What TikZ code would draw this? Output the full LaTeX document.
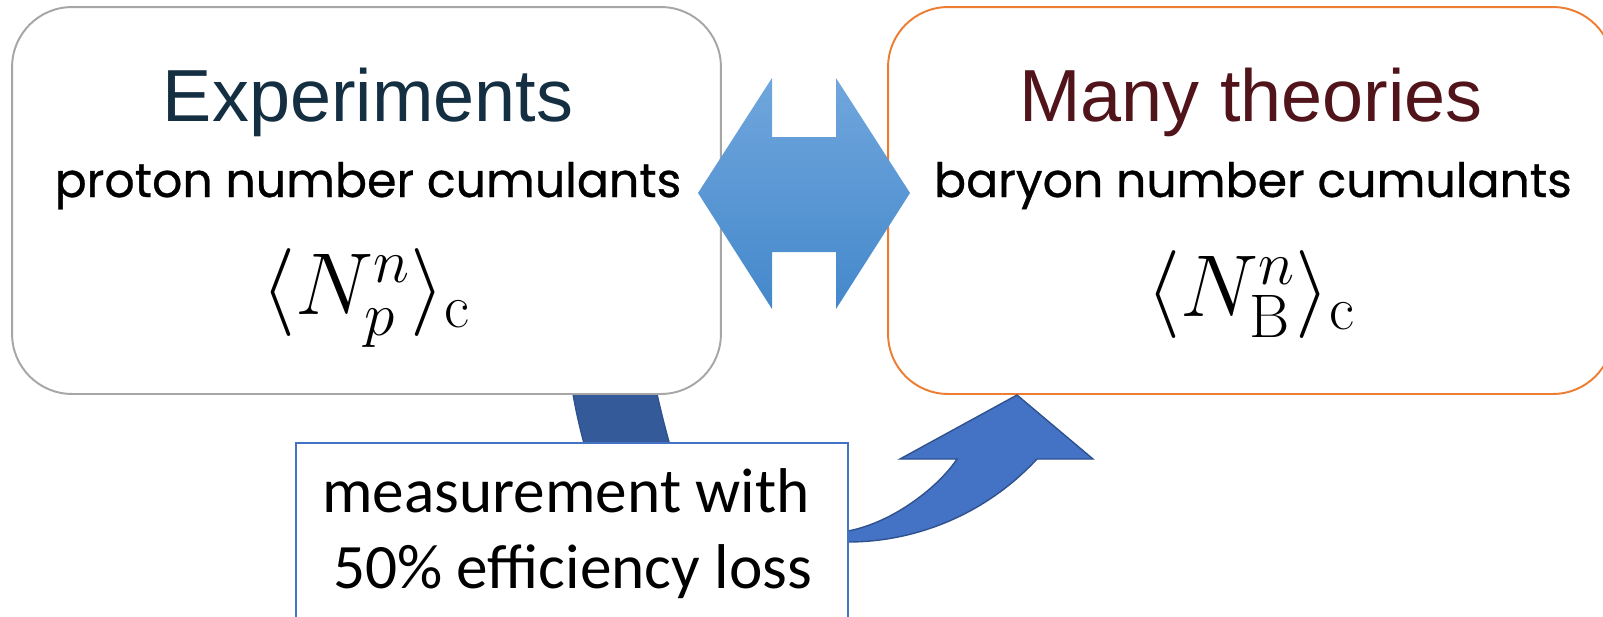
\RequirePackage{fix-cm}
\documentclass[tikz,border=0pt]{standalone}
\usepackage{fontspec}
\newfontfamily\headfont{Liberation Sans}
\newfontfamily\gothfont[FakeBold=0.6]{Poppins}
\newfontfamily\calfont{Carlito}
\usetikzlibrary{positioning}
\definecolor{expnavy}{RGB}{20,46,66}
\definecolor{theomaroon}{RGB}{80,20,26}
\definecolor{expgray}{RGB}{166,166,166}
\definecolor{theoorange}{RGB}{237,125,49}
\definecolor{boxblue}{RGB}{68,114,196}
\definecolor{curveblue}{RGB}{68,114,196}
\definecolor{bandblue}{RGB}{52,90,153}
\definecolor{bandedge}{RGB}{47,82,143}
\definecolor{dbltop}{RGB}{112,166,221}
\definecolor{dblbot}{RGB}{68,136,203}

\begin{document}
\begin{tikzpicture}[x=0.02cm,y=-0.02cm,
    panel/.style={draw,line width=1.1pt,fill=white,rounded corners=1.2cm,minimum height=7.74cm,inner sep=0pt},
    txt/.style={anchor=base,inner sep=0pt},
    headtxt/.style={txt,font=\headfont\fontsize{42}{48}\selectfont},
    subtxt/.style={txt,font=\gothfont\fontsize{27}{32}\selectfont},
    mathtxt/.style={txt,font=\fontsize{50}{56}\selectfont},
    meastxt/.style={txt,font=\calfont\fontsize{36}{43}\selectfont}]
  \useasboundingbox (0,0) rectangle (1603,616);
  \clip (0,0) rectangle (1603,616);
  \filldraw[fill=bandblue,draw=bandedge,line width=0.8pt] (570,375) .. controls (575,410) and (582,440) .. (595,480)
    -- (680,480) .. controls (668,440) and (660,410) .. (653,375) -- cycle;
  \node[panel,draw=expgray,minimum width=14.18cm] (exp) at (366.5,200.5) {};
  \node[panel,draw=theoorange,minimum width=14.5cm] (theo) at (1250.5,200.5) {};
  \node[headtxt,text=expnavy] (exptitle) at (368,121) {Experiments};
  \node[subtxt] (expsub) at (368,197) {proton number cumulants};
  \node[mathtxt] (expmath) at (366,314) {$\langle N_p^n\rangle_{\mathrm{c}}$};
  \node[headtxt,text=theomaroon] (theotitle) at (1251,121) {Many theories};
  \node[subtxt] (theosub) at (1253,197) {baryon number cumulants};
  \node[mathtxt] (theomath) at (1251,316) {$\langle N_{\mathrm{B}}^n\rangle_{\mathrm{c}}$};
  \filldraw[fill=curveblue,draw=bandedge,line width=0.8pt] (800,552) -- (848,542)
    .. controls (915,542) and (985,515) .. (1037,459) -- (1093,459) -- (1017,395) -- (900,459) -- (957,459)
    .. controls (940,485) and (895,522) .. (848,531) -- (800,540) -- cycle;
  \path[top color=dbltop,bottom color=dblbot] (698,193) -- (772,78) -- (772,137) -- (836,137) -- (836,78)
    -- (910,193) -- (836,309) -- (836,252) -- (772,252) -- (772,309) -- cycle;
  \node[draw=boxblue,line width=1.1pt,fill=white,minimum width=11.04cm,minimum height=4.14cm,inner sep=0pt] (meas) at (572,546.5) {};
  \node[meastxt] (measA) at (566,512) {measurement with};
  \node[meastxt] (measB) at (572.5,588) {50\% efficiency loss};
\end{tikzpicture}
\end{document}
